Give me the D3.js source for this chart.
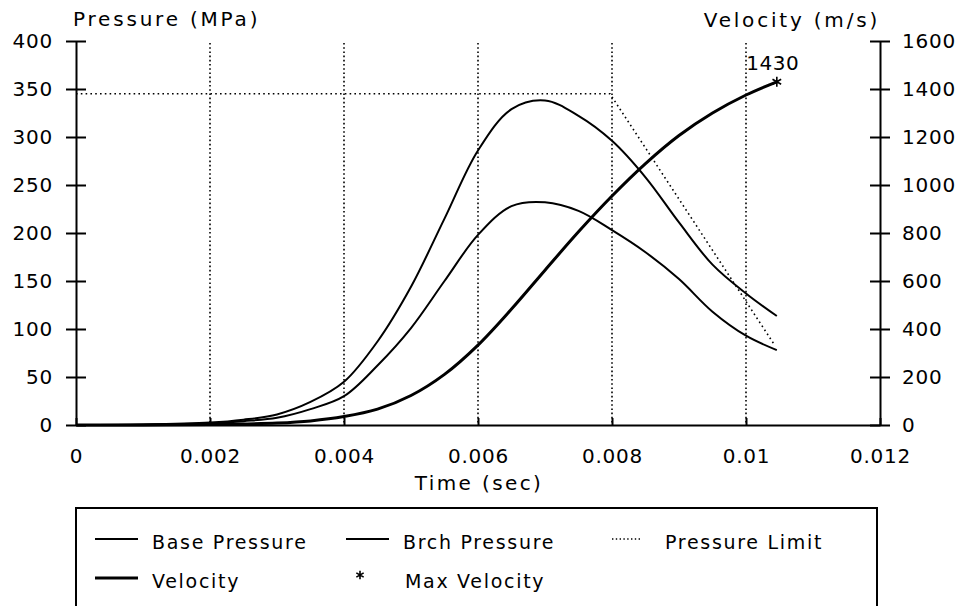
<!DOCTYPE html>
<html>
<head>
<meta charset="utf-8">
<script src="https://cdn.jsdelivr.net/npm/d3@7"></script>
<style>
  body { margin: 0; background: #fff; }
  text { font-family: "DejaVu Sans", sans-serif; fill: #000; }
</style>
</head>
<body>
<div id="chart"></div>
<script>
// data (time in seconds)
var time = [0, 0.001, 0.002, 0.0025, 0.003, 0.0035, 0.004, 0.0045, 0.005, 0.0055, 0.006,
  0.0065, 0.007, 0.0075, 0.008, 0.0085, 0.009, 0.0095, 0.01, 0.01046];
var breechPressure = [0, 0.5, 2.5, 5.5, 11, 24, 45, 87, 144, 215, 286,
  329, 338, 322, 296, 258, 211, 167, 137, 113.5];
var basePressure = [0, 0.3, 1.8, 4, 7.5, 16.5, 30, 62, 101, 150, 198,
  228, 232, 223, 203, 180, 152, 118, 93, 78];
var velocity = [0, 0.5, 2, 4, 8, 17, 35, 66, 123, 211, 333,
  483, 645, 805, 954, 1089, 1206, 1300, 1375, 1430];
var limitTime = [0, 0.00797, 0.01042];
var limitPressure = [345, 345, 84];
var maxVelocity = { t: 0.01046, v: 1430, label: "1430" };

var xTicks = [0, 0.002, 0.004, 0.006, 0.008, 0.01, 0.012];
var xTickLabels = ["0", "0.002", "0.004", "0.006", "0.008", "0.01", "0.012"];
var gridTicks = [0.002, 0.004, 0.006, 0.008, 0.01];
var pTicks = [0, 50, 100, 150, 200, 250, 300, 350, 400];
var vTicks = [0, 200, 400, 600, 800, 1000, 1200, 1400, 1600];

var W = 965, H = 606;
var margin = { top: 41, left: 76, right: 85, bottom: 181 };
var width = W - margin.left - margin.right,
    height = H - margin.top - margin.bottom;

var svg = d3
  .select("#chart")
  .append("svg")
  .attr("width", W)
  .attr("height", H);

var g = svg
  .append("g")
  .attr("transform", "translate(" + margin.left + "," + margin.top + ")");

var x = d3.scaleLinear().domain([0, 0.012]).range([0, width]);
var yP = d3.scaleLinear().domain([0, 400]).range([height, 0]);
var yV = d3.scaleLinear().domain([0, 1600]).range([height, 0]);

// dotted vertical grid
g.selectAll(".grid")
  .data(gridTicks)
  .enter()
  .append("line")
  .attr("x1", function(d) { return x(d); })
  .attr("x2", function(d) { return x(d); })
  .attr("y1", 2)
  .attr("y2", height)
  .attr("stroke", "#000")
  .attr("stroke-width", 1.6)
  .attr("stroke-dasharray", "1.6,2.6");

// axes
var xAxis = g
  .append("g")
  .attr("transform", "translate(0," + height + ")")
  .call(d3.axisBottom(x)
    .tickValues(xTicks)
    .tickFormat(function(d, i) { return xTickLabels[i]; })
    .tickSizeInner(-7)
    .tickSizeOuter(0)
    .tickPadding(38));

var leftAxis = g
  .append("g")
  .call(d3.axisLeft(yP).tickValues(pTicks).tickFormat(d3.format("d")).tickSize(10).tickSizeOuter(0).tickPadding(13));
leftAxis.selectAll(".tick line").attr("x2", 10).attr("x1", -10);

var rightAxis = g
  .append("g")
  .attr("transform", "translate(" + width + ",0)")
  .call(d3.axisRight(yV).tickValues(vTicks).tickFormat(d3.format("d")).tickSize(10).tickSizeOuter(0).tickPadding(12));
rightAxis.selectAll(".tick line").attr("x1", -10).attr("x2", 10);

g.selectAll(".domain, .tick line")
  .attr("stroke", "#000")
  .attr("stroke-width", 2);
g.selectAll(".tick text")
  .style("font-size", "20px")
  .style("letter-spacing", "0.8px")
  .style("font-family", "DejaVu Sans, sans-serif");
xAxis.selectAll(".tick text").attr("dy", "0");

// series
var pLine = d3.line()
  .x(function(d) { return x(d[0]); })
  .y(function(d) { return yP(d[1]); })
  .curve(d3.curveCatmullRom.alpha(0.5));
var vLine = d3.line()
  .x(function(d) { return x(d[0]); })
  .y(function(d) { return yV(d[1]); })
  .curve(d3.curveCatmullRom.alpha(0.5));

g.append("path")
  .datum(d3.zip(limitTime, limitPressure))
  .attr("fill", "none")
  .attr("stroke", "#000")
  .attr("stroke-width", 1.6)
  .attr("stroke-dasharray", "1.6,3.2")
  .attr("d", d3.line().x(function(d) { return x(d[0]); }).y(function(d) { return yP(d[1]); }));

g.append("path")
  .datum(d3.zip(time, basePressure))
  .attr("fill", "none")
  .attr("stroke", "#000")
  .attr("stroke-width", 2)
  .attr("d", pLine);

g.append("path")
  .datum(d3.zip(time, breechPressure))
  .attr("fill", "none")
  .attr("stroke", "#000")
  .attr("stroke-width", 2)
  .attr("d", pLine);

g.append("path")
  .datum(d3.zip(time, velocity))
  .attr("fill", "none")
  .attr("stroke", "#000")
  .attr("stroke-width", 3)
  .attr("d", vLine);

// max velocity marker
g.append("path")
  .attr("transform", "translate(" + x(maxVelocity.t) + "," + yV(maxVelocity.v) + ")")
  .attr("d", d3.symbol().type(d3.symbolAsterisk).size(70))
  .attr("fill", "none")
  .attr("stroke", "#000")
  .attr("stroke-width", 1.6);
g.append("text")
  .attr("x", x(maxVelocity.t) - 4)
  .attr("y", yV(maxVelocity.v) - 12)
  .attr("text-anchor", "middle")
  .style("font-size", "20px")
  .style("letter-spacing", "0.5px")
  .text(maxVelocity.label);

// axis titles
svg.append("text")
  .attr("x", 73)
  .attr("y", 26)
  .style("font-size", "20px")
  .style("letter-spacing", "2.8px")
  .text("Pressure (MPa)");
svg.append("text")
  .attr("x", 880)
  .attr("y", 27)
  .attr("text-anchor", "end")
  .style("font-size", "20px")
  .style("letter-spacing", "2.8px")
  .text("Velocity (m/s)");
svg.append("text")
  .attr("x", margin.left + width / 2 + 1)
  .attr("y", 490)
  .attr("text-anchor", "middle")
  .style("font-size", "20px")
  .style("letter-spacing", "2.4px")
  .text("Time (sec)");

// legend
var legend = svg.append("g");
legend.append("rect")
  .attr("x", 76)
  .attr("y", 508)
  .attr("width", 801)
  .attr("height", 120)
  .attr("fill", "none")
  .attr("stroke", "#000")
  .attr("stroke-width", 2);

var legendItems = [
  { name: "Base Pressure", kind: "line", w: 2, lx: 95, tx: 152, row: 0 },
  { name: "Brch Pressure", kind: "line", w: 2, lx: 346, tx: 403, row: 0 },
  { name: "Pressure Limit", kind: "dot", w: 1.4, lx: 612, tx: 665, row: 0 },
  { name: "Velocity", kind: "line", w: 3, lx: 95, tx: 152, row: 1 },
  { name: "Max Velocity", kind: "star", w: 1.6, lx: 360, tx: 405, row: 1 }
];
var rowY = [539, 578];

legendItems.forEach(function(d) {
  var cy = rowY[d.row];
  if (d.kind === "star") {
    legend.append("path")
      .attr("transform", "translate(" + d.lx + "," + (cy - 3) + ")")
      .attr("d", d3.symbol().type(d3.symbolAsterisk).size(50))
      .attr("fill", "none")
      .attr("stroke", "#000")
      .attr("stroke-width", d.w);
  } else {
    legend.append("line")
      .attr("x1", d.lx)
      .attr("x2", d.kind === "dot" ? d.lx + 28 : d.lx + 43)
      .attr("y1", cy)
      .attr("y2", cy)
      .attr("stroke", "#000")
      .attr("stroke-width", d.w)
      .attr("stroke-dasharray", d.kind === "dot" ? "1.4,2.4" : null);
  }
  legend.append("text")
    .attr("x", d.tx)
    .attr("y", cy + 10)
    .style("font-size", "19px")
    .style("letter-spacing", "1.7px")
    .text(d.name);
});
</script>
</body>
</html>
